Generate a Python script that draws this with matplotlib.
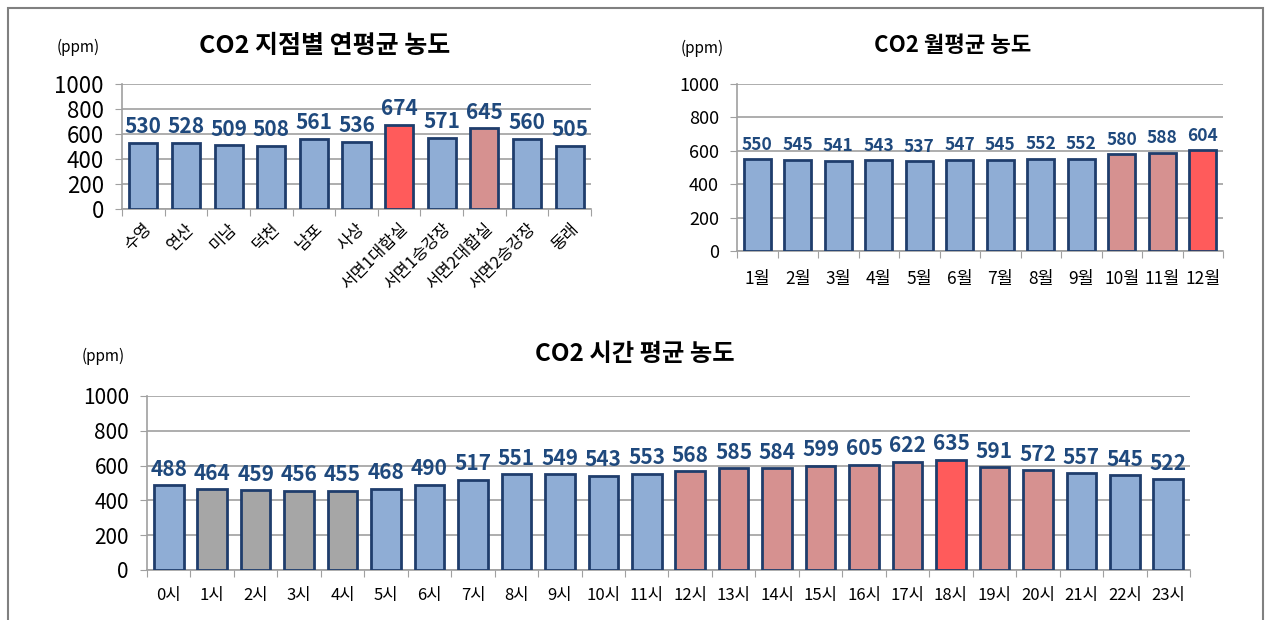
import matplotlib.pyplot as plt
from matplotlib.patches import Rectangle

plt.rcParams['font.family'] = ['Noto Sans CJK KR', 'DejaVu Sans']

site_labels = ['수영', '연산', '미남', '덕천', '남포', '사상', '서면1대합실', '서면1승강장',
               '서면2대합실', '서면2승강장', '동래']
site_values = [530, 528, 509, 508, 561, 536, 674, 571, 645, 560, 505]
site_colors = ['b', 'b', 'b', 'b', 'b', 'b', 'r', 'b', 'p', 'b', 'b']

month_labels = [f'{m}월' for m in range(1, 13)]
month_values = [550, 545, 541, 543, 537, 547, 545, 552, 552, 580, 588, 604]
month_colors = ['b'] * 9 + ['p', 'p', 'r']

hour_labels = [f'{h}시' for h in range(24)]
hour_values = [488, 464, 459, 456, 455, 468, 490, 517, 551, 549, 543, 553,
               568, 585, 584, 599, 605, 622, 635, 591, 572, 557, 545, 522]
hour_colors = ['b', 'g', 'g', 'g', 'g', 'b', 'b', 'b', 'b', 'b', 'b', 'b',
               'p', 'p', 'p', 'p', 'p', 'p', 'r', 'p', 'p', 'b', 'b', 'b']

PALETTE = {'b': '#8FADD5', 'r': '#FF5B5B', 'p': '#D69190', 'g': '#A6A6A6'}
EDGE = '#1F3D6C'
LABEL = '#1F497D'
GRID = '#A0A0A0'

W, H = 1266, 620
fig = plt.figure(figsize=(W / 100, H / 100), dpi=100)


def px_axes(x0, y0, x1, y1):
    return fig.add_axes([x0 / W, 1 - y1 / H, (x1 - x0) / W, (y1 - y0) / H])


def draw(ax, labels, values, colors, width, vfs, yfs, xfs, xpad, rot=0):
    n = len(values)
    x = list(range(n))
    ax.bar(x, values, width=width, color=[PALETTE[c] for c in colors],
           edgecolor=EDGE, linewidth=2, zorder=3)
    for xi, v in zip(x, values):
        ax.annotate(str(v), (xi, v), xytext=(0, 4), textcoords='offset points',
                    ha='center', va='bottom', fontsize=vfs,
                    fontweight='bold', color=LABEL, zorder=4)
    ax.set_xlim(-0.5, n - 0.5)
    ax.set_ylim(0, 1000)
    ax.set_yticks(range(0, 1001, 200))
    ax.yaxis.grid(True, color=GRID, linewidth=1.2, zorder=0)
    ax.set_axisbelow(True)
    for s in ['top', 'right']:
        ax.spines[s].set_visible(False)
    for s in ['left', 'bottom']:
        ax.spines[s].set_color(GRID)
        ax.spines[s].set_linewidth(1.2)
    ax.tick_params(axis='y', length=5, color=GRID, labelsize=yfs, pad=8)
    # category boundary ticks like a spreadsheet chart
    ax.set_xticks([i - 0.5 for i in range(n + 1)], minor=False)
    ax.set_xticklabels([])
    ax.tick_params(axis='x', which='major', length=5, color=GRID, direction='out')
    ax.set_xticks(x, minor=True)
    if rot:
        ax.set_xticklabels(labels, minor=True, rotation=rot, ha='right',
                           rotation_mode='anchor', fontsize=xfs)
    else:
        ax.set_xticklabels(labels, minor=True, fontsize=xfs)
    ax.tick_params(axis='x', which='minor', length=0, pad=xpad)


ax1 = px_axes(122, 84, 591, 209)
draw(ax1, site_labels, site_values, site_colors, 0.66, 15, 16, 12, 8, rot=45)
fig.text(325 / W, 1 - 46 / H, 'CO2 지점별 연평균 농도', ha='center', va='center',
         fontsize=18, fontweight='bold')
fig.text(78 / W, 1 - 47 / H, '(ppm)', ha='center', va='center', fontsize=11)

ax2 = px_axes(737, 84, 1223, 251)
draw(ax2, month_labels, month_values, month_colors, 0.66, 12.5, 13, 12.5, 14)
fig.text(953 / W, 1 - 46 / H, 'CO2 월평균 농도', ha='center', va='center',
         fontsize=16, fontweight='bold')
fig.text(702 / W, 1 - 48 / H, '(ppm)', ha='center', va='center', fontsize=11)

ax3 = px_axes(147, 396, 1190, 570)
draw(ax3, hour_labels, hour_values, hour_colors, 0.68, 15, 15, 12, 12)
fig.text(635 / W, 1 - 354 / H, 'CO2 시간 평균 농도', ha='center', va='center',
         fontsize=17.5, fontweight='bold')
fig.text(103 / W, 1 - 356 / H, '(ppm)', ha='center', va='center', fontsize=11)

fig.patches.append(Rectangle((8 / W, -0.05), (1263 - 8) / W, 1 - 8 / H + 0.05,
                             transform=fig.transFigure, fill=False,
                             edgecolor='#808080', linewidth=1.5))

fig.savefig('out.png', dpi=100)
